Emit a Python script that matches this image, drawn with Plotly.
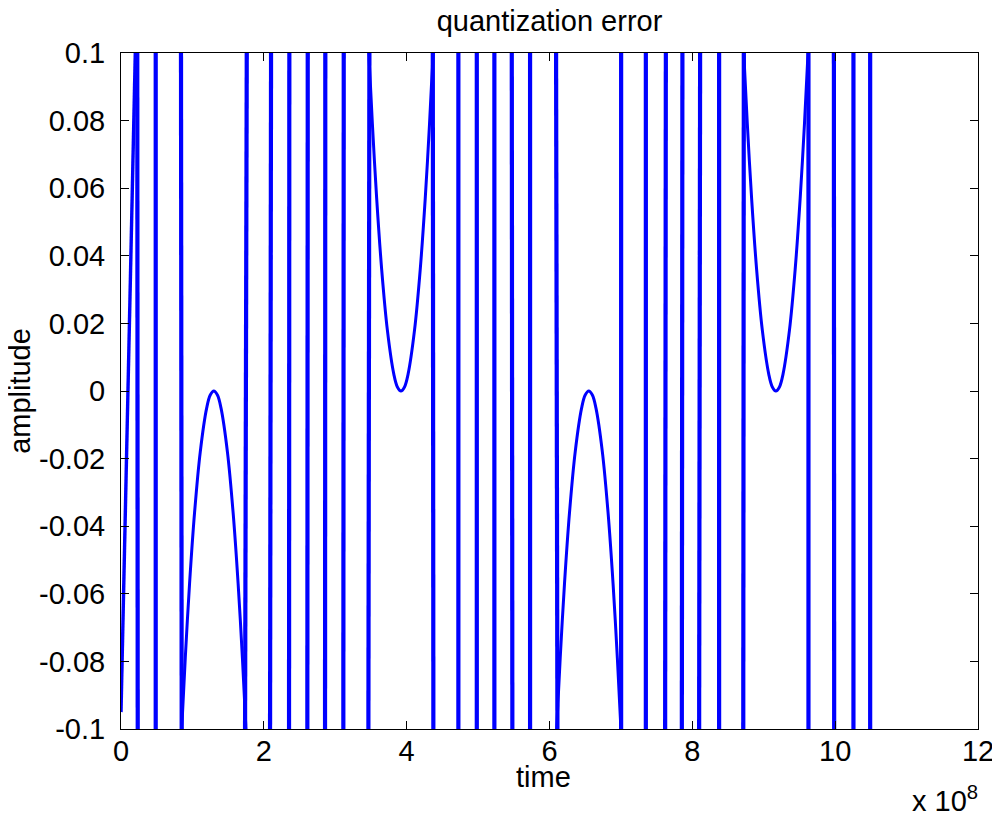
import plotly.graph_objects as go

# ---- data (time in units of 1e8) ----
# first rising stroke at the left edge
start_t = [0.0, 0.2]
start_amp = [-0.095, 0.1]

# near-vertical strokes: where each one meets the top (0.1) and bottom (-0.1) edges
line_t_top = [0.228, 0.486, 0.840, 1.761, 2.101, 2.357, 2.615, 2.861, 3.119, 3.478,
              4.366, 4.724, 4.982, 5.228, 5.472, 5.728, 6.092,
              7.003, 7.349, 7.629, 7.861, 8.109, 8.375, 8.721,
              9.626, 9.982, 10.256, 10.490]
line_t_bottom = [0.234, 0.486, 0.850, 1.737, 2.087, 2.353, 2.609, 2.857, 3.113, 3.464,
                 4.374, 4.724, 4.982, 5.228, 5.480, 5.728, 6.111,
                 7.003, 7.349, 7.619, 7.853, 8.095, 8.375, 8.713,
                 9.626, 9.986, 10.256, 10.490]

# the four slow parabolic arcs
arc1_t = [0.85, 0.90, 0.96, 1.03, 1.11, 1.20, 1.25, 1.30, 1.35, 1.40, 1.49, 1.57, 1.64, 1.70, 1.75]
arc1_amp = [-0.100, -0.079, -0.057, -0.036, -0.018, -0.005, -0.0012, 0.0, -0.0012, -0.005, -0.018, -0.036, -0.057, -0.079, -0.100]
arc2_t = [3.47, 3.52, 3.58, 3.65, 3.73, 3.82, 3.87, 3.92, 3.97, 4.02, 4.11, 4.19, 4.26, 4.32, 4.37]
arc2_amp = [0.100, 0.079, 0.057, 0.036, 0.018, 0.005, 0.0012, 0.0, 0.0012, 0.005, 0.018, 0.036, 0.057, 0.079, 0.100]
arc3_t = [6.10, 6.15, 6.21, 6.28, 6.36, 6.45, 6.50, 6.55, 6.60, 6.65, 6.74, 6.82, 6.89, 6.95, 7.00]
arc3_amp = [-0.100, -0.079, -0.057, -0.036, -0.018, -0.005, -0.0012, 0.0, -0.0012, -0.005, -0.018, -0.036, -0.057, -0.079, -0.100]
arc4_t = [8.72, 8.77, 8.83, 8.90, 8.98, 9.07, 9.12, 9.17, 9.22, 9.27, 9.36, 9.44, 9.51, 9.57, 9.62]
arc4_amp = [0.100, 0.079, 0.057, 0.036, 0.018, 0.005, 0.0012, 0.0, 0.0012, 0.005, 0.018, 0.036, 0.057, 0.079, 0.100]

x_tickvals = [0, 2, 4, 6, 8, 10, 12]
y_tickvals = [0.1, 0.08, 0.06, 0.04, 0.02, 0, -0.02, -0.04, -0.06, -0.08, -0.1]
y_ticktext = ["0.1", "0.08", "0.06", "0.04", "0.02", "0", "-0.02", "-0.04", "-0.06", "-0.08", "-0.1"]

# ---- build figure ----
BLUE = "#0000ff"
FONT = "Liberation Sans, Arial, Helvetica, sans-serif"
FS = 29

lx, ly = [], []
for tb, tt in zip(line_t_bottom, line_t_top):
    lx += [tb, tt, None]
    ly += [-0.1, 0.1, None]

ax, ay = [], []
for t, a in ((arc1_t, arc1_amp), (arc2_t, arc2_amp), (arc3_t, arc3_amp), (arc4_t, arc4_amp)):
    ax += list(t) + [None]
    ay += list(a) + [None]

fig = go.Figure()
fig.add_trace(go.Scatter(x=start_t, y=start_amp, mode="lines",
                         line=dict(color=BLUE, width=3.4), showlegend=False))
fig.add_trace(go.Scatter(x=lx, y=ly, mode="lines", connectgaps=False,
                         line=dict(color=BLUE, width=4.2), showlegend=False))
fig.add_trace(go.Scatter(x=ax, y=ay, mode="lines", connectgaps=False,
                         line=dict(color=BLUE, width=3.0, shape="spline"), showlegend=False))

axis_common = dict(showgrid=False, zeroline=False, showline=True, linecolor="#000000",
                   linewidth=1, mirror="ticks", ticks="inside", ticklen=8,
                   tickcolor="#000000", tickwidth=1, automargin=False,
                   tickfont=dict(family=FONT, size=FS, color="#000000"))

# the page body adds an 8 px offset, so margins are reduced by 8 px
fig.update_layout(
    width=1000, height=814,
    margin=dict(l=113, r=30, t=45, b=93, autoexpand=False),
    paper_bgcolor="#ffffff", plot_bgcolor="#ffffff",
    xaxis=dict(range=[0, 12], tickvals=x_tickvals, ticktext=[str(v) for v in x_tickvals],
               ticklabelstandoff=-4, **axis_common),
    yaxis=dict(range=[-0.1, 0.1], tickvals=y_tickvals, ticktext=y_ticktext,
               ticklabelstandoff=9, **axis_common),
    title=dict(text="quantization error", x=0.5, xref="paper", xanchor="center",
               y=1 - 13 / 814, yref="container", yanchor="middle", automargin=False,
               font=dict(family=FONT, size=FS, color="#000000")),
    annotations=[
        dict(text="time", xref="paper", yref="paper", x=0.493, y=-0.071,
             xanchor="center", yanchor="middle", showarrow=False,
             font=dict(family=FONT, size=FS, color="#000000")),
        dict(text="amplitude", xref="paper", yref="paper", x=-0.118, y=0.5,
             xanchor="center", yanchor="middle", textangle=-90, showarrow=False,
             font=dict(family=FONT, size=FS, color="#000000")),
        dict(text="x 10<sup>8</sup>", xref="paper", yref="paper", x=0.9207, y=-0.103,
             xanchor="left", yanchor="middle", showarrow=False,
             font=dict(family=FONT, size=FS, color="#000000")),
    ],
)

fig.write_html("out.html")
